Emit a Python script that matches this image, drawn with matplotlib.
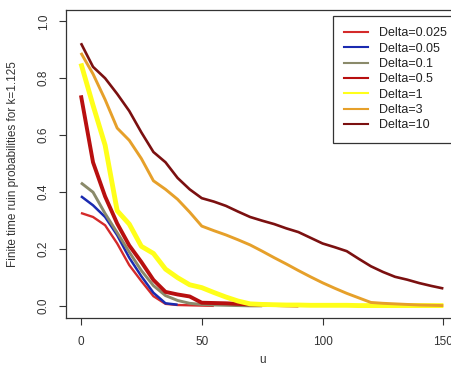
import matplotlib

matplotlib.use("Agg")
import matplotlib.pyplot as plt
from matplotlib.lines import Line2D

plt.rcParams["font.family"] = ["Liberation Sans", "DejaVu Sans"]

# ── data ──────────────────────────────────────────────────────────────
u_step = 5
delta_0025 = [0.327, 0.313, 0.284, 0.220, 0.144, 0.088, 0.035, 0.008, 0.004, 0.003, 0.002, 0.001]
delta_005 = [0.386, 0.354, 0.313, 0.249, 0.170, 0.105, 0.047, 0.010, 0.005]
delta_01 = [0.433, 0.400, 0.325, 0.258, 0.190, 0.125, 0.072, 0.037, 0.020, 0.010, 0.006,
            0.004, 0.003, 0.002, 0.001, 0.001]
delta_05 = [0.740, 0.505, 0.385, 0.290, 0.213, 0.155, 0.092, 0.050, 0.041, 0.034, 0.012,
            0.011, 0.010, 0.008, 0.006, 0.005, 0.004, 0.003, 0.002]
delta_1 = [0.852, 0.705, 0.565, 0.335, 0.288, 0.210, 0.185, 0.130, 0.100, 0.075, 0.065,
           0.048, 0.032, 0.018, 0.008, 0.006, 0.005, 0.004, 0.004, 0.003, 0.003, 0.003,
           0.003, 0.002, 0.002, 0.002, 0.002, 0.002, 0.002, 0.002, 0.002]
delta_3 = [0.889, 0.815, 0.725, 0.625, 0.582, 0.518, 0.440, 0.410, 0.375, 0.330, 0.281,
           0.265, 0.250, 0.233, 0.215, 0.193, 0.170, 0.148, 0.125, 0.103, 0.082, 0.063,
           0.045, 0.029, 0.013, 0.010, 0.008, 0.006, 0.004, 0.003, 0.002]
delta_10 = [0.923, 0.840, 0.800, 0.745, 0.685, 0.610, 0.541, 0.505, 0.450, 0.410, 0.379,
            0.367, 0.352, 0.332, 0.313, 0.300, 0.288, 0.273, 0.260, 0.240, 0.220, 0.207,
            0.193, 0.166, 0.140, 0.120, 0.103, 0.093, 0.081, 0.071, 0.062]

labels = ["Delta=0.025", "Delta=0.05", "Delta=0.1", "Delta=0.5", "Delta=1", "Delta=3", "Delta=10"]
series = [delta_0025, delta_005, delta_01, delta_05, delta_1, delta_3, delta_10]
colors = ["#d42a2a", "#1a2ab0", "#8a8a6a", "#b80f0f", "#ffff1a", "#e6a02a", "#7b1010"]
widths = [1.7, 1.8, 2.1, 2.8, 3.5, 2.1, 1.9]

# ── plot ──────────────────────────────────────────────────────────────
fig = plt.figure(figsize=(4.52, 3.65), dpi=100)
ax = fig.add_axes([0.147, 0.130, 0.866, 0.843])

for vals, c, lw in zip(series, colors, widths):
    u = [i * u_step for i in range(len(vals))]
    ax.plot(u, vals, color=c, lw=lw, solid_joinstyle="round", solid_capstyle="butt")

ax.set_xlim(-6, 156)
ax.set_ylim(-0.04, 1.04)
ax.set_xticks([0, 50, 100, 150])
ax.set_yticks([0.0, 0.2, 0.4, 0.6, 0.8, 1.0])
ax.set_yticklabels(["0.0", "0.2", "0.4", "0.6", "0.8", "1.0"], rotation=90, va="center")
ax.tick_params(direction="out", length=5, width=0.8, colors="#333333", labelsize=8.5)
ax.tick_params(axis="x", pad=8)
ax.tick_params(axis="y", pad=7)
for sp in ax.spines.values():
    sp.set_color("#333333")
    sp.set_linewidth(0.9)

ax.set_xlabel("u", fontsize=8.5, color="#333333")
ax.xaxis.set_label_coords(0.5, -0.138)
ax.xaxis.label.set_va("center")
ax.set_ylabel("Finite time ruin probabilities for k=1.125", fontsize=8.5, color="#333333")
ax.yaxis.set_label_coords(-0.137, 0.5)
ax.yaxis.label.set_va("center")

handles = [Line2D([], [], color=c, lw=1.5) for c in colors]
leg = ax.legend(handles, labels, loc="upper left", bbox_to_anchor=(333 / 452, 1 - 16 / 365),
                bbox_transform=fig.transFigure, borderaxespad=0, fontsize=9,
                handlelength=1.9, handletextpad=0.9, labelspacing=0.27, borderpad=0.9,
                fancybox=False, framealpha=1, edgecolor="#333333")
leg.get_frame().set_linewidth(0.9)
for t in leg.get_texts():
    t.set_color("#222222")

fig.savefig("out.png", dpi=100)
